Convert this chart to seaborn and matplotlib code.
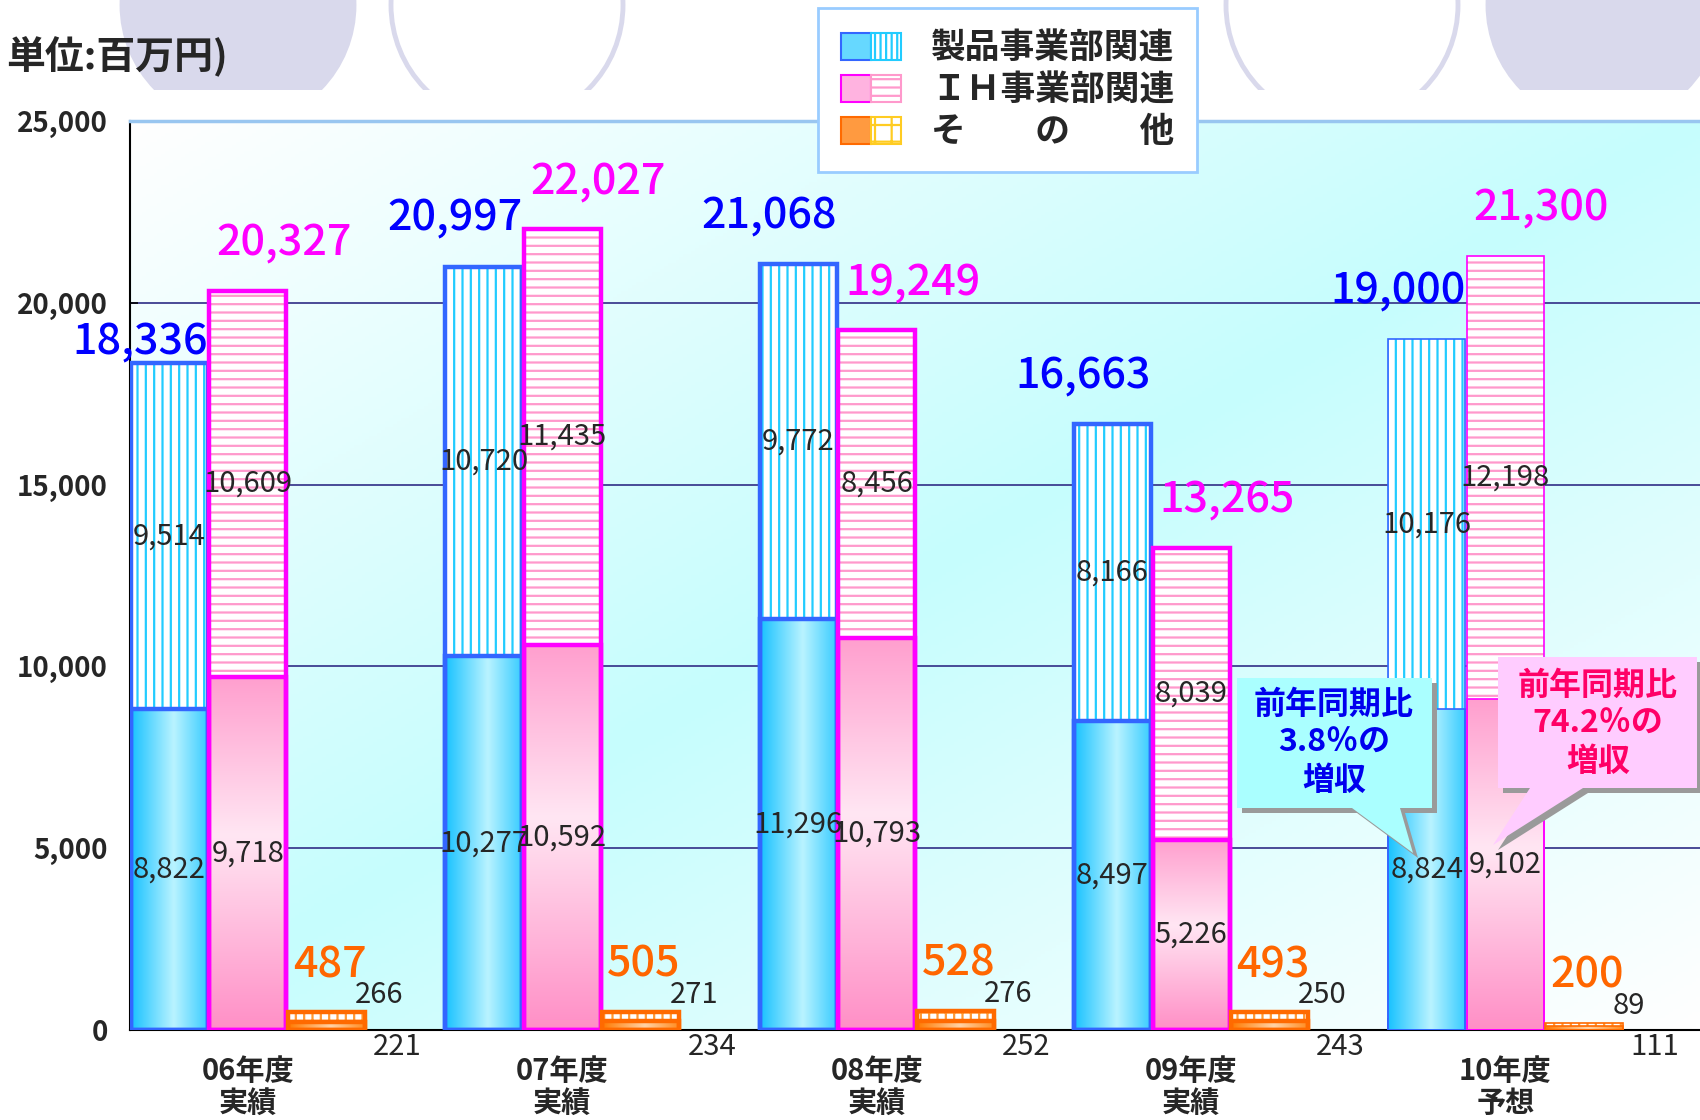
import numpy as np
import pandas as pd
import matplotlib.pyplot as plt
import matplotlib.patches as mpatches
from matplotlib.colors import LinearSegmentedColormap
from matplotlib.legend_handler import HandlerTuple
import seaborn as sns

# data (百万円): first half (lower, solid) and second half (upper, hatched)
years = ['06年度\n実績', '07年度\n実績', '08年度\n実績', '09年度\n実績', '10年度\n予想']
series = ['製品事業部関連', 'ＩＨ事業部関連', 'その他']
legend_labels = ['製品事業部関連', 'ＩＨ事業部関連', 'そ　　の　　他']

prod_h1 = [8822, 10277, 11296, 8497, 8824]
prod_h2 = [9514, 10720, 9772, 8166, 10176]
ih_h1 = [9718, 10592, 10793, 5226, 9102]
ih_h2 = [10609, 11435, 8456, 8039, 12198]
other_h1 = [221, 234, 252, 243, 111]
other_h2 = [266, 271, 276, 250, 89]

unit_text = '単位:百万円)'
bubble_prod = '前年同期比\n3.8％の\n増収'
bubble_ih = '前年同期比\n74.2％の\n増収'

rows = []
for s, h1, h2 in zip(series, [prod_h1, ih_h1, other_h1], [prod_h2, ih_h2, other_h2]):
    for y, a, b in zip(years, h1, h2):
        rows.append({'year': y, 'series': s, 'h1': a, 'h2': b, 'total': a + b})
df = pd.DataFrame(rows)

sns.set_theme(style='white')
plt.rcParams['font.family'] = ['Noto Sans CJK JP', 'DejaVu Sans']
plt.rcParams['hatch.linewidth'] = 1.6
num_font = ['Liberation Sans Narrow', 'Noto Sans CJK JP', 'DejaVu Sans']

W, H = 1700, 1120
fig = plt.figure(figsize=(W / 100, H / 100), dpi=100)


def fpx(x, y):
    return x / W, 1 - y / H


# decorative circles at top, cut off above the plot
clip = mpatches.Rectangle((0, 1 - 90 / H), 1, 90 / H, transform=fig.transFigure)
for cx, filled in [(238, True), (507, False), (1342, False), (1604, True)]:
    e = mpatches.Ellipse(fpx(cx, 5), 232 / W, 236 / H, transform=fig.transFigure,
                         facecolor='#d9d9ec' if filled else 'white', edgecolor='#d9d9ec', lw=3.5)
    fig.add_artist(e)
    e.set_clip_path(clip)

fig.text(*fpx(228, 57), unit_text, ha='right', va='center', fontsize=28, fontweight='bold')

ax = fig.add_axes([130 / W, 1 - 1030 / H, 1570 / W, 909 / H])
xlim = (-0.375, 4.619)

sns.barplot(data=df, x='year', y='total', hue='series', order=years, hue_order=series,
            width=0.75, gap=0.02, palette=['white'] * 3, saturation=1, errorbar=None,
            legend=False, ax=ax)
sns.barplot(data=df, x='year', y='h1', hue='series', order=years, hue_order=series,
            width=0.75, gap=0.02, palette=['white'] * 3, saturation=1, errorbar=None,
            legend=False, ax=ax)

edge_cols = ['#3366ff', '#ff00ff', '#ff6a00']
hatch_cols = ['#22ccff', '#ff99cc', '#ff9933']
hatches = ['||', '--', '++']
lab_cols = ['#0000ff', '#ff00ff', '#ff6600']
lws = [3.2, 3.2, 3.2, 3.2, 1.2]

cm_blue = LinearSegmentedColormap.from_list('b', ['#18c2ff', '#b9f3ff'])
cm_pink = LinearSegmentedColormap.from_list('p', ['#ff8fc6', '#ffe6f3'])
cm_orng = LinearSegmentedColormap.from_list('o', ['#ff7a00', '#ffd3a6'])
t = np.linspace(0, 1, 256)
grad_h = (1 - np.abs(t - 0.55) / 0.55).clip(0, 1)[None, :]
grad_v = (1 - np.abs(t - 0.45) / 0.55).clip(0, 1)[:, None]
grads = [(cm_blue, grad_h), (cm_pink, grad_v), (cm_orng, grad_h)]

tot_cont = ax.containers[:3]
low_cont = ax.containers[3:6]
for k in range(3):
    for j, (pt, pl) in enumerate(zip(tot_cont[k], low_cont[k])):
        x0, w = pt.get_x(), pt.get_width()
        pt.set_facecolor('white')
        pt.set_hatch(hatches[k])
        pt.set_edgecolor(hatch_cols[k])
        pt.set_linewidth(0)
        pt.set_zorder(2)
        ax.add_patch(mpatches.Rectangle((x0, 0), w, pt.get_height(), fill=False,
                                        edgecolor=edge_cols[k], lw=lws[j], zorder=4,
                                        joinstyle='miter'))
        pl.set_facecolor('none')
        pl.set_edgecolor(edge_cols[k])
        pl.set_linewidth(lws[j])
        pl.set_zorder(4)
        cm, g = grads[k]
        im = ax.imshow(g, cmap=cm, vmin=0, vmax=1, extent=[x0, x0 + w, 0, pl.get_height()],
                       aspect='auto', zorder=3, interpolation='bicubic')
        im.set_clip_path(pl)

# background gradient
u = np.linspace(0, 1, 400)
v = np.linspace(0, 1, 300)
U, V = np.meshgrid(u, v)
bg = 1 - np.abs(U - (1 - V))
bg_cm = LinearSegmentedColormap.from_list('bg', ['#ffffff', '#c6fdfd'])
ax.imshow(bg, cmap=bg_cm, vmin=0, vmax=1, extent=[xlim[0], xlim[1], 0, 25000],
          aspect='auto', zorder=0)

ax.set_xlim(*xlim)
ax.set_ylim(0, 25000)

# segment labels
for k, (h1s, h2s) in enumerate([(prod_h1, prod_h2), (ih_h1, ih_h2)]):
    for j, pt in enumerate(tot_cont[k]):
        cx = pt.get_x() + pt.get_width() / 2
        ax.text(cx, h1s[j] / 2, f'{h1s[j]:,}', ha='center', va='center', fontsize=21,
                family=num_font, zorder=6)
        ax.text(cx, h1s[j] + h2s[j] / 2, f'{h2s[j]:,}', ha='center', va='center',
                fontsize=21, family=num_font, zorder=6)

for j, pt in enumerate(tot_cont[2]):
    xr = pt.get_x() + pt.get_width()
    ax.annotate(f'{other_h2[j]}', (xr, pt.get_height()), xytext=(-10, 2),
                textcoords='offset pixels', ha='left', va='bottom', fontsize=21,
                family=num_font, zorder=6, annotation_clip=False)
    ax.annotate(f'{other_h1[j]}', (xr, 0), xytext=(8, -2), textcoords='offset pixels',
                ha='left', va='top', fontsize=21, family=num_font, zorder=6,
                annotation_clip=False)

# totals
tot_dx = [-29, 36, 3]
prod_dy = [0, 27, 27, 27, 27]
for k in range(3):
    for j, pt in enumerate(tot_cont[k]):
        cx = pt.get_x() + pt.get_width() / 2
        dy = prod_dy[j] if k == 0 else 26
        ax.annotate(f'{int(pt.get_height()):,}', (cx, pt.get_height()),
                    xytext=(tot_dx[k], dy), textcoords='offset pixels', ha='center',
                    va='bottom', fontsize=31, color=lab_cols[k], family=num_font,
                    fontweight='medium', zorder=7, annotation_clip=False)

# axes styling
ax.set_xlabel('')
ax.set_ylabel('')
ticks = np.arange(0, 25001, 5000)
ax.set_yticks(ticks)
ax.set_yticklabels([f'{v:,}' for v in ticks], fontsize=20, fontweight='bold')
ax.set_xticks(range(len(years)))
ax.set_xticklabels(years, fontsize=21, fontweight='bold', linespacing=1.05)
ax.set_xticks([0.625, 1.625, 2.625, 3.625], minor=True)
ax.tick_params(axis='y', direction='in', length=6, width=1.2, color='black', pad=16, left=True)
ax.tick_params(axis='x', which='major', length=0, pad=19)
ax.tick_params(axis='x', which='minor', direction='in', length=9, width=1.2,
               color='black', bottom=True)
ax.yaxis.grid(True, color='#3d3d8f', lw=1.3)
ax.xaxis.grid(False)
ax.set_axisbelow(True)
for side in ['left', 'bottom']:
    ax.spines[side].set_color('black')
    ax.spines[side].set_linewidth(1.5)
ax.spines['top'].set_color('#99c6f0')
ax.spines['top'].set_linewidth(2.5)
ax.spines['right'].set_visible(False)

# legend
handles = []
leg_solid = ['#66d8ff', '#ffb3e0', '#ff9a40']
leg_hatch_cols = ['#22ccff', '#ff99cc', '#ffcc22']
leg_hatches = ['|||', '--', '+']
for k in range(3):
    solid = mpatches.Patch(facecolor=leg_solid[k], edgecolor=edge_cols[k], lw=1.5)
    hat = mpatches.Patch(facecolor='white', edgecolor=leg_hatch_cols[k], hatch=leg_hatches[k], lw=1.5)
    handles.append((solid, hat))
leg = fig.legend(handles, legend_labels, loc='upper left', bbox_to_anchor=fpx(818, 8),
                 handler_map={tuple: HandlerTuple(ndivide=None, pad=0)},
                 prop={'size': 25, 'weight': 'bold'}, handlelength=1.75, handleheight=0.85,
                 handletextpad=0.85, labelspacing=0.2, borderpad=0.65, borderaxespad=0,
                 frameon=True, fancybox=False, edgecolor='#99ccff', framealpha=1)
leg.get_frame().set_linewidth(2)

# speech bubbles
bubbles = [
    ([(1237, 678), (1432, 678), (1432, 808), (1400, 808), (1413, 853), (1352, 808), (1237, 808)],
     '#aaffff', bubble_prod, '#0000ee', (1334, 743)),
    ([(1498, 657), (1697, 657), (1697, 788), (1583, 788), (1493, 845), (1530, 788), (1498, 788)],
     '#ffccff', bubble_ih, '#ff0066', (1598, 724)),
]
for pts, fc, txt, tc, tpos in bubbles:
    shadow = mpatches.Polygon([fpx(x + 5, y + 5) for x, y in pts], closed=True,
                              transform=fig.transFigure, facecolor='#9a9a9a', lw=0, zorder=8)
    body = mpatches.Polygon([fpx(x, y) for x, y in pts], closed=True,
                            transform=fig.transFigure, facecolor=fc, lw=0, zorder=9)
    fig.add_artist(shadow)
    fig.add_artist(body)
    fig.text(*fpx(*tpos), txt, ha='center', va='center', fontsize=23, fontweight='bold',
             color=tc, linespacing=1.25, zorder=10)

fig.savefig('out.png', dpi=100)
